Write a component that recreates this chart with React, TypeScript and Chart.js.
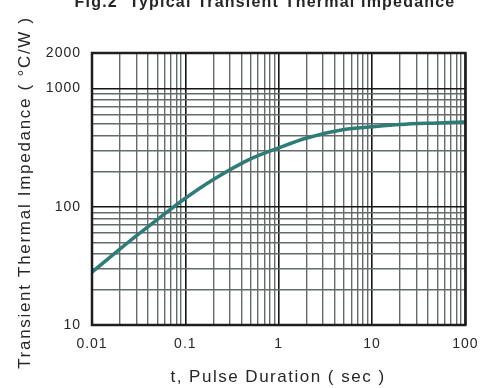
import React, { useEffect, useRef } from "react";
import { Chart, registerables } from "chart.js";

Chart.register(...registerables);

// ---- data ----
const pulseDuration = [0.01, 0.02, 0.03, 0.05, 0.1, 0.2, 0.5, 1, 2, 5, 10, 20, 50, 100];
const thermalImpedance = [28, 44, 57, 78, 118, 170, 254, 315, 382, 450, 475, 497, 512, 522];

const xTickValues = [
  0.01, 0.02, 0.03, 0.04, 0.05, 0.06, 0.07, 0.08, 0.09,
  0.1, 0.2, 0.3, 0.4, 0.5, 0.6, 0.7, 0.8, 0.9,
  1, 2, 3, 4, 5, 6, 7, 8, 9,
  10, 20, 30, 40, 50, 60, 70, 80, 90,
  100,
];
const xTickLabels = ["0.01", "0.1", "1", "10", "100"];
const xMajorValues = [0.01, 0.1, 1, 10, 100];

const yTickValues = [
  10, 20, 30, 40, 50, 60, 70, 80, 90,
  100, 200, 300, 400, 500, 600, 700, 800, 900,
  1000, 2000,
];
const yTickLabels = ["10", "100", "1000", "2000"];
const yMajorValues = [10, 100, 1000];

const chartTitle = "Fig.2  Typical Transient Thermal Impedance";
const xTitle = "t, Pulse Duration ( sec )";
const yTitle = "Transient Thermal Impedance ( °C/W )";

const near = (a: number, b: number) => Math.abs(a - b) <= Math.abs(b) * 1e-6;
const labelFor = (v: number, labels: string[]) => {
  const found = labels.find((l) => near(v, Number(l)));
  return found === undefined ? "" : found;
};
const isMajor = (v: number | undefined, majors: number[]) =>
  v !== undefined && majors.some((m) => near(v, m));

const MAJOR_COLOR = "#151515";
const MINOR_COLOR = "#636c6a";
const TEXT_COLOR = "#262626";
const FONT = '"Liberation Sans", Arial, sans-serif';

const textPlugin = {
  id: "customText",
  beforeDraw(chart: any) {
    (chart.ctx as any).letterSpacing = "1px";
  },
  afterDatasetsDraw(chart: any) {
    const { ctx, chartArea } = chart;
    ctx.save();
    ctx.strokeStyle = "#1e1e1e";
    ctx.lineWidth = 2.5;
    ctx.strokeRect(chartArea.left, chartArea.top, chartArea.right - chartArea.left, chartArea.bottom - chartArea.top);
    ctx.restore();
  },
  afterDraw(chart: any) {
    const ctx = chart.ctx as any;
    ctx.save();
    ctx.fillStyle = TEXT_COLOR;
    ctx.textAlign = "center";
    ctx.textBaseline = "alphabetic";
    ctx.font = `bold 16px ${FONT}`;
    ctx.letterSpacing = "1.2px";
    ctx.fillText(chartTitle, 265, 7);
    ctx.font = `17px ${FONT}`;
    ctx.letterSpacing = "1.5px";
    ctx.fillText(xTitle, 278, 382);
    ctx.translate(30, 192.5);
    ctx.rotate(-Math.PI / 2);
    ctx.letterSpacing = "1.7px";
    ctx.fillText(yTitle, 0, 0);
    ctx.restore();
  },
};

export default function App() {
  const canvasRef = useRef<HTMLCanvasElement | null>(null);

  useEffect(() => {
    if (!canvasRef.current) return;
    const chart = new Chart(canvasRef.current, {
      type: "line",
      data: {
        datasets: [
          {
            data: pulseDuration.map((t, i) => ({ x: t, y: thermalImpedance[i] })),
            borderColor: "#2f7c76",
            borderWidth: 3.5,
            pointRadius: 0,
            cubicInterpolationMode: "monotone",
            fill: false,
          },
        ],
      },
      options: {
        animation: false,
        responsive: false,
        maintainAspectRatio: false,
        layout: { padding: { top: 53, right: 17.5, left: 0, bottom: 0 } },
        plugins: {
          legend: { display: false },
          title: { display: false },
          tooltip: { enabled: false },
        },
        scales: {
          x: {
            type: "logarithmic",
            min: 0.01,
            max: 100,
            afterBuildTicks: (s: any) => {
              s.ticks = xTickValues.map((v) => ({ value: v }));
            },
            afterFit: (s: any) => {
              s.height = 63;
            },
            ticks: {
              autoSkip: false,
              maxRotation: 0,
              padding: 11,
              color: TEXT_COLOR,
              font: { family: FONT, size: 14 },
              callback: (v: any) => labelFor(Number(v), xTickLabels),
            },
            grid: {
              drawTicks: false,
              color: (c: any) => (isMajor(c.tick?.value, xMajorValues) ? MAJOR_COLOR : MINOR_COLOR),
              lineWidth: (c: any) => (isMajor(c.tick?.value, xMajorValues) ? 1.6 : 1.4),
            },
            border: { display: false },
          },
          y: {
            type: "logarithmic",
            min: 10,
            max: 2000,
            afterBuildTicks: (s: any) => {
              s.ticks = yTickValues.map((v) => ({ value: v }));
            },
            afterFit: (s: any) => {
              s.width = 92;
            },
            ticks: {
              autoSkip: false,
              padding: 11,
              color: TEXT_COLOR,
              font: { family: FONT, size: 14 },
              callback: (v: any) => labelFor(Number(v), yTickLabels),
            },
            grid: {
              drawTicks: false,
              color: (c: any) => (isMajor(c.tick?.value, yMajorValues) ? MAJOR_COLOR : MINOR_COLOR),
              lineWidth: (c: any) => (isMajor(c.tick?.value, yMajorValues) ? 1.6 : 1.4),
            },
            border: { display: false },
          },
        },
      } as any,
      plugins: [textPlugin],
    });
    return () => chart.destroy();
  }, []);

  return (
    <div style={{ position: "fixed", left: 0, top: 0, width: 488, height: 388, background: "#fff" }}>
      <canvas ref={canvasRef} width={488} height={388} />
    </div>
  );
}
